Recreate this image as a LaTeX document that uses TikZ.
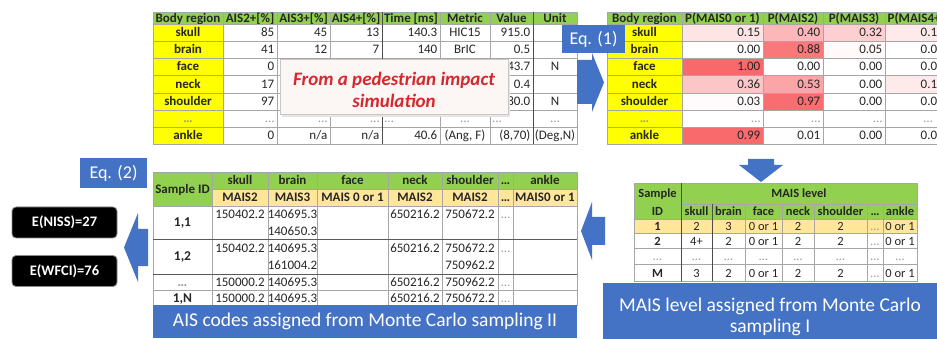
\documentclass[tikz,border=0pt]{standalone}
\usepackage{fontspec}
\setmainfont{Carlito}
\definecolor{hdr}{HTML}{92D050}
\definecolor{ylw}{HTML}{FFFF00}
\definecolor{org}{HTML}{FFE699}
\definecolor{blu}{HTML}{4472C4}
\definecolor{hot}{HTML}{F8696B}
\definecolor{grid}{HTML}{A6A6A6}
\definecolor{redtxt}{HTML}{D7262E}
\definecolor{notefill}{HTML}{FCF7F5}

\newcommand\pxl[2]{#1+2.5}
\newcommand\pxr[2]{#2-2.5}
\newcommand\pxc[2]{(#1+#2)/2}
\newcommand\anl{base west}
\newcommand\anr{base east}
\newcommand\anc{base}
\newcommand\blo{4.5}

% \celltxt{name}{x1}{x2}{ymid}{opts}{l|c|r}{text}
\newcommand\celltxt[7]{%
  \edef\cltmpx{\csname px#6\endcsname{#2}{#3}}%
  \edef\cltmpan{\csname an#6\endcsname}%
  \pgfmathsetmacro\cltx{\cltmpx}%
  \pgfmathsetmacro\clty{#4+\blo}%
  \node[txt,#5,anchor=\cltmpan] (#1) at (\cltx,\clty) {#7};}

% \cellbx{name}{x1}{y1}{x2}{y2}{opts}{l|c|r}{text}
\newcommand\cellbx[8]{%
  \path[gridline,#6] (#2,#3) rectangle (#4,#5);%
  \pgfmathsetmacro\cmid{(#3+#5)/2}%
  \celltxt{#1}{#2}{#4}{\cmid}{#6,fill=none,draw=none}{#7}{#8}}

% \twoline{name}{x1}{y1}{x2}{y2}{top}{bottom}
\newcommand\twoline[7]{%
  \path[gridline] (#2,#3) rectangle (#4,#5);%
  \pgfmathsetmacro\tla{#3+(#5-#3)/4}%
  \pgfmathsetmacro\tlb{#3+3*(#5-#3)/4}%
  \celltxt{#1a}{#2}{#4}{\tla}{}{c}{#6}%
  \celltxt{#1b}{#2}{#4}{\tlb}{}{c}{#7}}

\tikzset{
  gridline/.style={draw=grid, line width=0.5pt, fill=white},
  txt/.style={inner sep=0pt, font=\fontsize{13}{15}\selectfont, text=black!85},
  hd/.style={font=\fontsize{13}{15}\bfseries\selectfont},
  dots/.style={text=black!40},
  eqbox/.style={fill=blu, text=white, font=\fontsize{18}{20}\selectfont, inner sep=0pt},
  resbox/.style={fill=black, draw=black!45, line width=0.8pt, rounded corners=4pt, text=white,
    font=\fontsize{14.5}{16}\bfseries\selectfont, minimum width=105pt, minimum height=31pt, inner sep=0pt},
  bannerbox/.style={fill=blu, inner sep=0pt},
  bannertext/.style={text=white, font=\fontsize{19.5}{21}\selectfont, align=center, inner sep=0pt},
  notebox/.style={fill=notefill, draw=black!22, line width=1pt, inner sep=0pt},
  notetext/.style={text=redtxt, font=\fontsize{19}{22}\bfseries\itshape\selectfont, align=center, inner sep=0pt},
  blockarrow/.style={fill=blu}
}

\begin{document}
\begin{tikzpicture}[x=1pt,y=-1pt]
\useasboundingbox (0,0) rectangle (937,339);
\fill[white] (0,0) rectangle (937,339);
\begin{scope}
\clip (0,0) rectangle (937,339);

% ================= Table 1 (simulation output) =================
\foreach \xa/\xb/\h [count=\i] in {153/223/Body region,223/277/AIS2+[\%],277/330/AIS3+[\%],330/382/AIS4+[\%],382/440/Time [ms],440/490/Metric,490/533/Value,533/577/Unit}
  {\cellbx{t1-h\i}{\xa}{12}{\xb}{24}{fill=hdr,hd}{c}{\h}}
\foreach \r/\ya/\yb/\reg/\va/\vb/\vc/\vt/\vm/\vv/\vu in {
  1/24/41/skull/85/45/13/140.3/HIC15/915.0/{},
  2/41/58/brain/41/12/7/140/BrIC/0.5/{},
  3/58/75/face/0/{}/{}/{}/{}/43.7/N,
  4/75/93/neck/17/{}/{}/{}/{}/0.4/{},
  5/93/110/shoulder/97/{}/{}/{}/{}/80.0/N,
  7/127/144/ankle/0/{n/a}/{n/a}/40.6/{(Ang, F)}/{(8,70)}/{(Deg,N)}}
{
  \cellbx{t1-\r-1}{153}{\ya}{223}{\yb}{fill=ylw,hd}{c}{\reg}
  \cellbx{t1-\r-2}{223}{\ya}{277}{\yb}{}{r}{\va}
  \cellbx{t1-\r-3}{277}{\ya}{330}{\yb}{}{r}{\vb}
  \cellbx{t1-\r-4}{330}{\ya}{382}{\yb}{}{r}{\vc}
  \cellbx{t1-\r-5}{382}{\ya}{440}{\yb}{}{r}{\vt}
  \cellbx{t1-\r-6}{440}{\ya}{490}{\yb}{}{c}{\vm}
  \cellbx{t1-\r-7}{490}{\ya}{533}{\yb}{}{r}{\vv}
  \cellbx{t1-\r-8}{533}{\ya}{577}{\yb}{}{c}{\vu}
}
\cellbx{t1-6-1}{153}{110}{223}{127}{fill=ylw,hd,dots}{c}{\ldots}
\cellbx{t1-6-2}{223}{110}{277}{127}{dots}{r}{\ldots}
\cellbx{t1-6-3}{277}{110}{330}{127}{dots}{r}{\ldots}
\cellbx{t1-6-4}{330}{110}{382}{127}{dots}{r}{\ldots}
\cellbx{t1-6-5}{382}{110}{440}{127}{dots}{l}{\ldots}
\cellbx{t1-6-6}{440}{110}{490}{127}{dots}{c}{\ldots}
\cellbx{t1-6-7}{490}{110}{533}{127}{dots}{l}{\ldots}
\cellbx{t1-6-8}{533}{110}{577}{127}{dots}{c}{\ldots}
\draw[black!70, line width=0.8pt] (382,12) -- (382,144) (533,12) -- (533,144);

% overlay note
\path[fill=black!10] (282,62) rectangle (510,117);
\node[notebox, minimum width=228pt, minimum height=55pt] (note) at (394,87.5) {};
\node[notetext] (notet) at (394,90) {From a pedestrian impact\\simulation};

% ================= Table 2 (probabilities) =================
\foreach \xa/\xb/\h [count=\i] in {607/682/Body region,682/763/P(MAIS0 or 1),763/823/P(MAIS2),823/885/P(MAIS3)}
  {\cellbx{t2-h\i}{\xa}{12}{\xb}{24}{fill=hdr,hd}{c}{\h}}
\cellbx{t2-h5}{885}{12}{950}{24}{fill=hdr,hd}{l}{P(MAIS4+}
\foreach \r/\ya/\yb/\reg/\qa/\pa/\qb/\pb/\qc/\pc/\qd/\pd in {
  1/24/41/skull/0.15/18/0.40/48/0.32/32/0.1/14,
  2/41/58/brain/0.00/0/0.88/90/0.05/4/0.0/0,
  3/58/75/face/1.00/100/0.00/0/0.00/0/0.0/0,
  4/75/93/neck/0.36/38/0.53/60/0.00/0/0.1/14,
  5/93/110/shoulder/0.03/3/0.97/97/0.00/0/0.0/0,
  7/127/144/ankle/0.99/99/0.01/1/0.00/0/0.0/0}
{
  \cellbx{t2-\r-1}{607}{\ya}{682}{\yb}{fill=ylw,hd}{c}{\reg}
  \cellbx{t2-\r-2}{682}{\ya}{763}{\yb}{fill=hot!\pa!white}{r}{\qa}
  \cellbx{t2-\r-3}{763}{\ya}{823}{\yb}{fill=hot!\pb!white}{r}{\qb}
  \cellbx{t2-\r-4}{823}{\ya}{885}{\yb}{fill=hot!\pc!white}{r}{\qc}
  \cellbx{t2-\r-5}{885}{\ya}{950}{\yb}{fill=hot!\pd!white}{c}{}
  \celltxt{t2-\r-5t}{918}{950}{(\ya+\yb)/2}{}{l}{\qd}
}
\cellbx{t2-6-1}{607}{110}{682}{127}{fill=ylw,hd,dots}{c}{\ldots}
\cellbx{t2-6-2}{682}{110}{763}{127}{dots}{r}{\ldots}
\cellbx{t2-6-3}{763}{110}{823}{127}{dots}{r}{\ldots}
\cellbx{t2-6-4}{823}{110}{885}{127}{dots}{r}{\ldots}
\cellbx{t2-6-5}{885}{110}{950}{127}{dots}{c}{}
\celltxt{t2-6-5t}{921}{950}{118.5}{dots}{l}{\ldots}

% arrow Eq.(1) and box
\fill[blockarrow] (577,60) -- (592,60) -- (592,53) -- (604,82.5) -- (592,112) -- (592,104) -- (577,104) -- cycle;
\node[eqbox, minimum width=63pt, minimum height=28pt] (eq1) at (593.5,39) {Eq. (1)};

% down arrow
\fill[blockarrow] (748,159) -- (774,159) -- (774,165) -- (783,165) -- (761,182) -- (739,165) -- (748,165) -- cycle;

% ================= Table 3 (MAIS level sampling) =================
\begin{scope}[txt/.style={inner sep=0pt, font=\fontsize{12.5}{14}\selectfont, text=black!85},
              hd/.style={font=\fontsize{12.5}{14}\bfseries\selectfont}]
\cellbx{t3-sid}{634}{183}{681}{219}{fill=hdr,hd}{c}{}
\celltxt{t3-sid1}{634}{681}{193.5}{hd}{c}{Sample}
\celltxt{t3-sid2}{634}{681}{211.5}{hd}{c}{ID}
\cellbx{t3-mais}{681}{183}{917}{204}{fill=hdr,hd}{c}{MAIS level}
\foreach \xa/\xb/\h [count=\i] in {681/712/skull,712/745/brain,745/782/face,782/814/neck,814/867/shoulder,867/883/\ldots,883/917/ankle}
  {\cellbx{t3-h\i}{\xa}{204}{\xb}{219}{fill=hdr,hd}{c}{\h}}
\foreach \r/\ya/\yb/\fl/\zs/\za/\zb/\zc/\zd/\ze/\zg in {
  1/219/233/org/1/2/3/0 or 1/2/2/0 or 1,
  2/233/248/white/2/4+/2/0 or 1/2/2/0 or 1,
  4/264/281/white/M/3/2/0 or 1/2/2/0 or 1}
{
  \cellbx{t3-\r-0}{634}{\ya}{681}{\yb}{fill=\fl,hd}{c}{\zs}
  \cellbx{t3-\r-1}{681}{\ya}{712}{\yb}{fill=\fl}{c}{\za}
  \cellbx{t3-\r-2}{712}{\ya}{745}{\yb}{fill=\fl}{c}{\zb}
  \cellbx{t3-\r-3}{745}{\ya}{782}{\yb}{fill=\fl}{c}{\zc}
  \cellbx{t3-\r-4}{782}{\ya}{814}{\yb}{fill=\fl}{c}{\zd}
  \cellbx{t3-\r-5}{814}{\ya}{867}{\yb}{fill=\fl}{c}{\ze}
  \cellbx{t3-\r-6}{867}{\ya}{883}{\yb}{fill=\fl,dots}{c}{\ldots}
  \cellbx{t3-\r-7}{883}{\ya}{917}{\yb}{fill=\fl}{c}{\zg}
}
\foreach \xa/\xb [count=\i] in {634/681,681/712,712/745,745/782,782/814,814/867,867/883,883/917}
  {\cellbx{t3-3-\i}{\xa}{248}{\xb}{264}{dots}{c}{\ldots}}
\draw[black!70, line width=0.8pt] (712,204) -- (712,281) (681,183) -- (681,281);
\end{scope}

% banner MAIS
\node[bannerbox, minimum width=334pt, minimum height=56pt] (ban2) at (770,311) {};
\node[bannertext] (ban2t) at (770,317) {MAIS level assigned from Monte Carlo\\sampling I};

% left arrow between bottom tables
\fill[blockarrow] (605,217) -- (592,217) -- (592,202) -- (581,231) -- (592,260) -- (592,245) -- (605,245) -- cycle;

% ================= Table 4 (AIS codes) =================
\cellbx{t4-sid}{153}{172}{212}{206}{fill=hdr,hd}{c}{Sample ID}
\foreach \xa/\xb/\h [count=\i] in {212/268/skull,268/317/brain,317/388/face,388/442/neck,442/498/shoulder,498/513/\ldots,513/577/ankle}
  {\cellbx{t4-h\i}{\xa}{172}{\xb}{189}{fill=hdr,hd}{c}{\h}}
\foreach \xa/\xb/\h [count=\i] in {212/268/MAIS2,268/317/MAIS3,317/388/MAIS 0 or 1,388/442/MAIS2,442/498/MAIS2,498/513/\ldots,513/577/MAIS0 or 1}
  {\cellbx{t4-m\i}{\xa}{189}{\xb}{206}{fill=org,hd}{c}{\h}}
\begin{scope}[txt/.style={inner sep=0pt, font=\fontsize{13}{15}\selectfont, text=black!85},
              hd/.style={font=\fontsize{13.5}{15}\bfseries\selectfont}]
% row 1,1
\cellbx{t4-r1-0}{153}{206}{212}{239}{hd}{c}{1,1}
\twoline{t4-r1-1}{212}{206}{268}{239}{150402.2}{}
\twoline{t4-r1-2}{268}{206}{317}{239}{140695.3}{140650.3}
\twoline{t4-r1-3}{317}{206}{388}{239}{}{}
\twoline{t4-r1-4}{388}{206}{442}{239}{650216.2}{}
\twoline{t4-r1-5}{442}{206}{498}{239}{750672.2}{}
\twoline{t4-r1-6}{498}{206}{513}{239}{\textcolor{black!40}{\ldots}}{}
\twoline{t4-r1-7}{513}{206}{577}{239}{}{}
% row 1,2
\cellbx{t4-r2-0}{153}{239}{212}{274}{hd}{c}{1,2}
\twoline{t4-r2-1}{212}{239}{268}{274}{150402.2}{}
\twoline{t4-r2-2}{268}{239}{317}{274}{140695.3}{161004.2}
\twoline{t4-r2-3}{317}{239}{388}{274}{}{}
\twoline{t4-r2-4}{388}{239}{442}{274}{650216.2}{}
\twoline{t4-r2-5}{442}{239}{498}{274}{750672.2}{750962.2}
\twoline{t4-r2-6}{498}{239}{513}{274}{\textcolor{black!40}{\ldots}}{}
\twoline{t4-r2-7}{513}{239}{577}{274}{}{}
% row ... and 1,N
\foreach \r/\ya/\yb/\zs/\sk/\bn/\nk/\shd in {3/274/290/{\textcolor{black!40}{\ldots}}/150000.2/140695.3/650216.2/750962.2,
  4/290/305/{1,N}/150000.2/140695.3/650216.2/750672.2}
{
  \cellbx{t4-r\r-0}{153}{\ya}{212}{\yb}{hd}{c}{\zs}
  \cellbx{t4-r\r-1}{212}{\ya}{268}{\yb}{}{c}{\sk}
  \cellbx{t4-r\r-2}{268}{\ya}{317}{\yb}{}{c}{\bn}
  \cellbx{t4-r\r-3}{317}{\ya}{388}{\yb}{}{c}{}
  \cellbx{t4-r\r-4}{388}{\ya}{442}{\yb}{}{c}{\nk}
  \cellbx{t4-r\r-5}{442}{\ya}{498}{\yb}{}{c}{\shd}
  \cellbx{t4-r\r-6}{498}{\ya}{513}{\yb}{dots}{c}{\ldots}
  \cellbx{t4-r\r-7}{513}{\ya}{577}{\yb}{}{c}{}
}
\end{scope}
\draw[black!65, line width=0.9pt] (153,239) -- (577,239) (153,274) -- (577,274);

% banner AIS
\node[bannerbox, minimum width=424pt, minimum height=33pt] (ban1) at (365,321.5) {};
\node[bannertext] (ban1t) at (365,321.5) {AIS codes assigned from Monte Carlo sampling II};

% Eq.(2), arrow and results
\node[eqbox, minimum width=67pt, minimum height=30pt] (eq2) at (113.5,173) {Eq. (2)};
\fill[blockarrow] (148,229) -- (138,229) -- (138,213) -- (124,247.5) -- (138,282) -- (138,266) -- (148,266) -- cycle;
\node[resbox] (niss) at (64.5,222.5) {E(NISS)=27};
\node[resbox] (wfci) at (64.5,271) {E(WFCI)=76};

\end{scope}
\end{tikzpicture}
\end{document}
